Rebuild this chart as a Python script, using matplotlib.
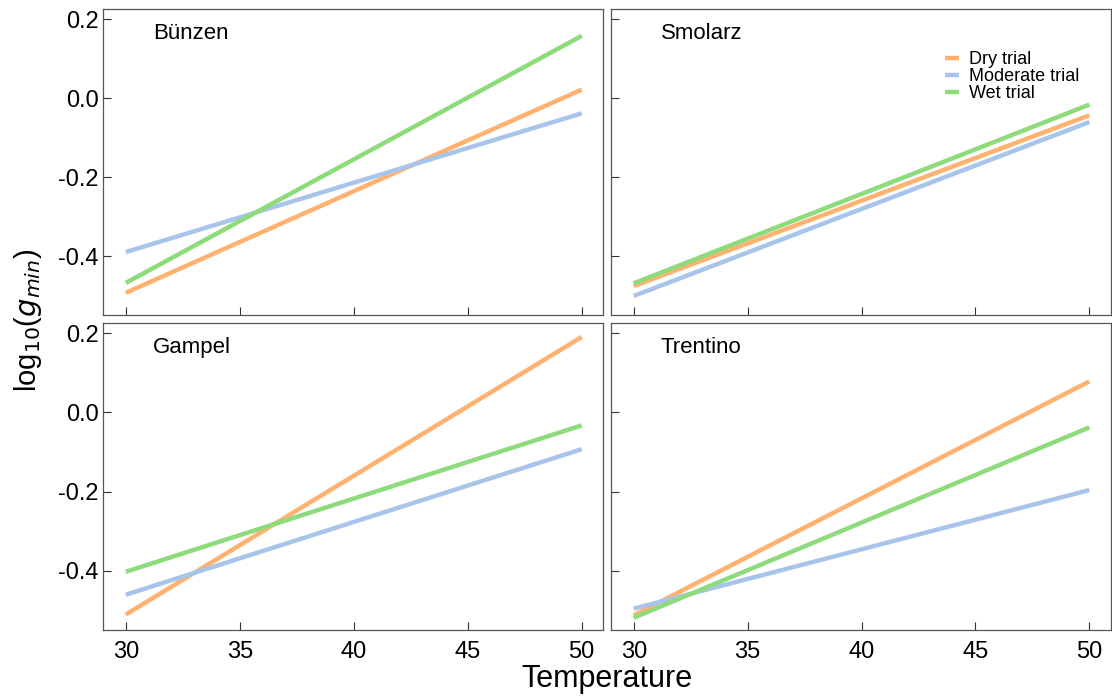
import numpy as np
import matplotlib.pyplot as plt

# fitted log10(gmin) lines at 30 and 50 degrees, one pair per trial
temp_ends = [30, 50]
sites = ["Bünzen", "Smolarz", "Gampel", "Trentino"]
trials = ["Dry trial", "Moderate trial", "Wet trial"]
trial_colors = ["#FFB26F", "#A8C4EA", "#8EDB7B"]

bunzen = {"Dry trial": [-0.492, 0.022], "Moderate trial": [-0.389, -0.038], "Wet trial": [-0.467, 0.158]}
smolarz = {"Dry trial": [-0.475, -0.043], "Moderate trial": [-0.500, -0.060], "Wet trial": [-0.468, -0.016]}
gampel = {"Dry trial": [-0.510, 0.190], "Moderate trial": [-0.460, -0.093], "Wet trial": [-0.402, -0.033]}
trentino = {"Dry trial": [-0.512, 0.078], "Moderate trial": [-0.495, -0.196], "Wet trial": [-0.518, -0.038]}
site_data = [bunzen, smolarz, gampel, trentino]

xticks = [30, 35, 40, 45, 50]
yticks = [-0.4, -0.2, 0.0, 0.2]

plt.rcParams["font.family"] = ["Liberation Sans", "DejaVu Sans"]

fig = plt.figure(figsize=(11.12, 6.97), dpi=100)
lefts = [0.0924, 0.5492]
widths = [0.4502, 0.4499]
bottoms = [0.5476, 0.0961]
heights = [0.4395, 0.4409]

for i, (name, data) in enumerate(zip(sites, site_data)):
    r, c = divmod(i, 2)
    ax = fig.add_axes([lefts[c], bottoms[r], widths[c], heights[r]])
    for trial, col in zip(trials, trial_colors):
        ax.plot(temp_ends, data[trial], color=col, lw=3.2, label=trial,
                solid_capstyle="butt")
    ax.set_xlim(28.99, 50.95)
    ax.set_ylim(-0.549, 0.226)
    ax.set_xticks(xticks)
    ax.set_yticks(yticks)
    ax.tick_params(direction="in", length=6, width=0.8, color="#333333")
    for sp in ax.spines.values():
        sp.set_color("#555555")
        sp.set_linewidth(0.9)
    if c == 0:
        ax.set_yticklabels(["-0.4", "-0.2", "0.0", "0.2"], fontsize=17)
        ax.tick_params(axis="y", pad=3)
    else:
        ax.set_yticklabels([])
    if r == 1:
        ax.set_xticklabels([str(t) for t in xticks], fontsize=17)
        ax.tick_params(axis="x", pad=8)
    else:
        ax.set_xticklabels([])
    ax.text(0.1, 0.92, name, transform=ax.transAxes, fontsize=16,
            va="center", ha="left")
    if i == 1:
        ax.legend(loc="upper left", bbox_to_anchor=(0.668, 0.862), frameon=False,
                  fontsize=13, handlelength=0.78, handletextpad=0.55,
                  labelspacing=0.0, borderpad=0, borderaxespad=0)

fig.text(0.025, 0.541, r"log$_{10}$($g_{min}$)", rotation=90, fontsize=21,
         va="center", ha="center")
fig.text(0.546, 0.004, "Temperature", fontsize=22, ha="center", va="bottom")

fig.savefig("out.png", dpi=100)
